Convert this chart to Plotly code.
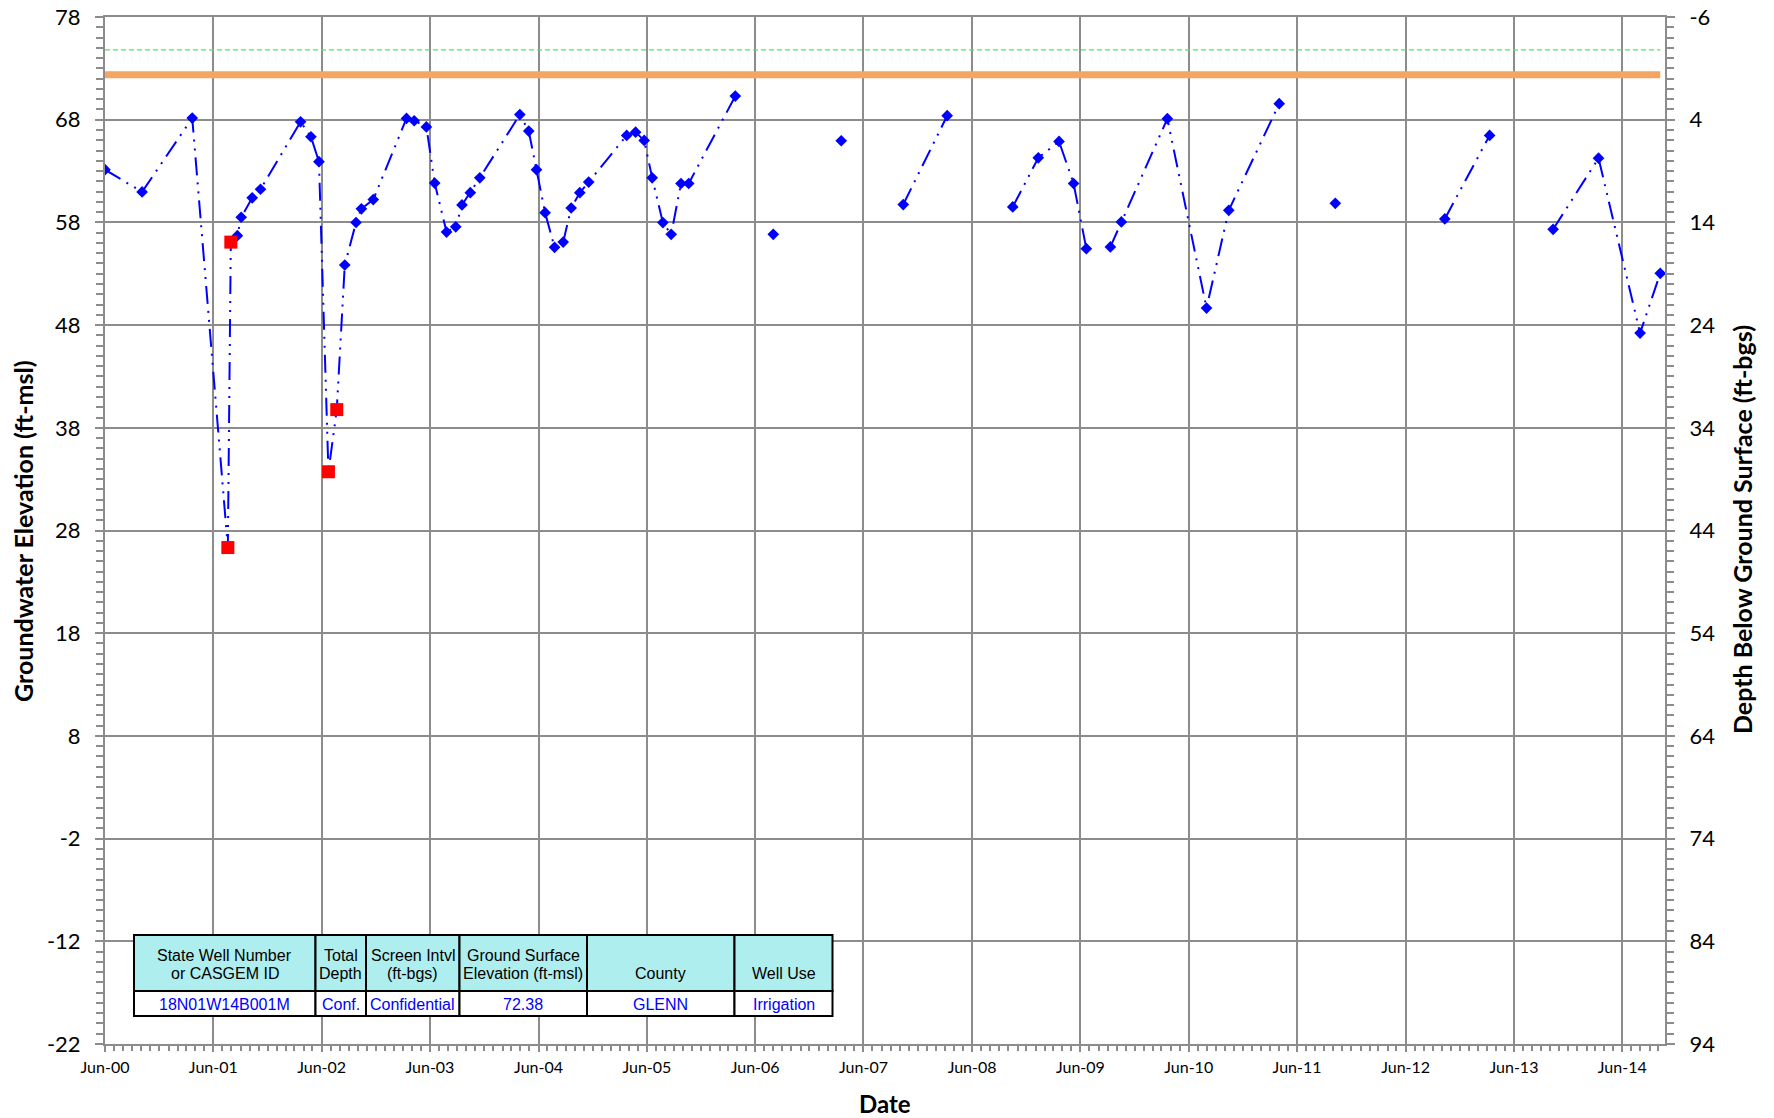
import plotly.graph_objects as go

# ---------------- data ----------------
# Groundwater elevation measurements (ft-msl); None marks a break in the record
dates = [
    "2000-06-01", "2000-10-04", "2001-03-22", "2001-07-20", "2001-07-30", "2001-08-21",
    "2001-09-03", "2001-10-10", "2001-11-07", "2002-03-22", "2002-04-26", "2002-05-23",
    "2002-06-24", "2002-07-22", "2002-08-18", "2002-09-25", "2002-10-13", "2002-11-22",
    "2003-03-14", "2003-04-09", "2003-05-20", "2003-06-17", "2003-07-27", "2003-08-27",
    "2003-09-17", "2003-10-15", "2003-11-16", "2004-03-30", "2004-04-29", "2004-05-25",
    "2004-06-23", "2004-07-25", "2004-08-23", "2004-09-19", "2004-10-18", "2004-11-17",
    "2005-03-25", "2005-04-24", "2005-05-23", "2005-06-19", "2005-07-25", "2005-08-22",
    "2005-09-24", "2005-10-20", "2006-03-26", None,
    "2006-08-01", None,
    "2007-03-18", None,
    "2007-10-13", "2008-03-09", None,
    "2008-10-16", "2009-01-10", "2009-03-21", "2009-05-09", "2009-06-21", None,
    "2009-09-10", "2009-10-17", "2010-03-21", "2010-07-31", "2010-10-14", "2011-04-02", None,
    "2011-10-08", None,
    "2012-10-11", "2013-03-11", None,
    "2013-10-11", "2014-03-13", "2014-07-31", "2014-10-07",
]
elev = [
    63.13, 60.97, 68.16, 26.34, 56.08, 56.71,
    58.50, 60.39, 61.23, 67.79, 66.34, 63.91,
    33.72, 39.77, 53.85, 57.99, 59.32, 60.22,
    68.12, 67.90, 67.30, 61.83, 57.06, 57.57,
    59.70, 60.89, 62.34, 68.50, 66.89, 63.13,
    58.95, 55.57, 56.08, 59.40, 60.89, 61.93,
    66.47, 66.79, 65.98, 62.34, 57.98, 56.84,
    61.79, 61.79, 70.30, None,
    56.84, None,
    65.95, None,
    59.74, 68.39, None,
    59.51, 64.29, 65.88, 61.79, 55.44, None,
    55.61, 58.05, 68.10, 49.66, 59.18, 69.56, None,
    59.86, None,
    58.34, 66.47, None,
    57.33, 64.25, 47.22, 53.04,
]
# Questionable measurements
q_dates = ["2001-07-20", "2001-07-30", "2002-06-24", "2002-07-22"]
q_elev = [26.34, 56.08, 33.72, 39.77]

ground_surface = 72.38
reference_point = 74.80
ref_dates = ["2000-06-01", "2014-10-07"]

# axis ticks
elev_ticks = [-22, -12, -2, 8, 18, 28, 38, 48, 58, 68, 78]
elev_ticktext = ["-22", "-12", "-2", "8", "18", "28", "38", "48", "58", "68", "78"]
depth_ticks = [-6, 4, 14, 24, 34, 44, 54, 64, 74, 84, 94]
depth_ticktext = ["-6", "4", "14", "24", "34", "44", "54", "64", "74", "84", "94"]

# Well info table
table_head1 = ["State Well Number", "Total", "Screen Intvl", "Ground Surface", "", ""]
table_head2 = ["or CASGEM ID", "Depth", "(ft-bgs)", "Elevation (ft-msl)", "County", "Well Use"]
table_vals = ["18N01W14B001M", "Conf.", "Confidential", "72.38", "GLENN", "Irrigation"]

# ---------------- layout geometry (page pixels) ----------------
W, H = 1774, 1118
OFF = 8  # page body margin
L, R, T, B = 105, 1665, 17, 1044
PW, PH = R - L, B - T


def px(x):
    return (x - L) / PW


def py(y):
    return (B - y) / PH


GRID = "#8C8C8C"
AXFONT = "Lato, 'Open Sans', sans-serif"

fig = go.Figure()

fig.add_trace(go.Scatter(
    x=ref_dates, y=[reference_point, reference_point], mode="lines",
    line=dict(color="#44F044", width=1.2, dash="5px,3px"),
    hoverinfo="skip", showlegend=False))
fig.add_trace(go.Scatter(
    x=ref_dates, y=[ground_surface, ground_surface], mode="lines",
    line=dict(color="#F5A462", width=7),
    hoverinfo="skip", showlegend=False))
fig.add_trace(go.Scatter(
    x=dates, y=elev, mode="lines+markers", connectgaps=False,
    line=dict(color="#0000FF", width=2, dash="18px,7px,2px,7px,2px,7px"),
    marker=dict(symbol="diamond", size=9, color="#0000FF"),
    showlegend=False))
fig.add_trace(go.Scatter(
    x=q_dates, y=q_elev, mode="markers",
    marker=dict(symbol="square", size=13, color="#FF0000"),
    showlegend=False))
# invisible trace to activate the right axis
fig.add_trace(go.Scatter(
    x=ref_dates, y=[72 - ground_surface, 72 - ground_surface], yaxis="y2",
    mode="lines", line=dict(width=0), opacity=0, hoverinfo="skip", showlegend=False))

fig.update_layout(
    width=W, height=H,
    margin=dict(l=L - OFF, r=W - (R - OFF), t=T - OFF, b=H - (B - OFF), autoexpand=False),
    paper_bgcolor="white", plot_bgcolor="white",
    font=dict(family=AXFONT, color="black"),
    xaxis=dict(
        type="date", range=["2000-06-01", "2014-10-23"],
        tick0="2000-06-01", dtick="M12", tickformat="%b-%y",
        tickfont=dict(size=16, family=AXFONT, color="black"),
        showgrid=True, gridcolor=GRID, gridwidth=2,
        showline=True, linecolor=GRID, linewidth=2, mirror=True,
        ticks="outside", ticklen=6, tickcolor=GRID, tickwidth=2,
        ticklabelstandoff=2, ticklabeloverflow="allow",
        minor=dict(dtick="M1", ticks="outside", ticklen=5, tickcolor=GRID, tickwidth=1.5, showgrid=False),
        zeroline=False,
    ),
    yaxis=dict(
        range=[-22, 78], tickmode="array", tickvals=elev_ticks, ticktext=elev_ticktext,
        tickfont=dict(size=22, family=AXFONT, color="black"),
        showgrid=True, gridcolor=GRID, gridwidth=2,
        showline=True, linecolor=GRID, linewidth=2,
        ticks="outside", ticklen=8, tickcolor=GRID, tickwidth=2,
        ticklabelstandoff=10, ticklabeloverflow="allow",
        minor=dict(dtick=1, tick0=-22, ticks="outside", ticklen=7, tickcolor=GRID, tickwidth=1.5, showgrid=False),
        zeroline=False,
    ),
    yaxis2=dict(
        overlaying="y", side="right", range=[94, -6],
        tickmode="array", tickvals=depth_ticks, ticktext=depth_ticktext,
        tickfont=dict(size=22, family=AXFONT, color="black"),
        showgrid=False,
        showline=True, linecolor=GRID, linewidth=2,
        ticks="outside", ticklen=8, tickcolor=GRID, tickwidth=2,
        ticklabelstandoff=10, ticklabeloverflow="allow",
        minor=dict(dtick=1, tick0=-6, ticks="outside", ticklen=7, tickcolor=GRID, tickwidth=1.5, showgrid=False),
        zeroline=False,
    ),
)

# axis titles
fig.add_annotation(text="<b>Groundwater Elevation (ft-msl)</b>", xref="paper", yref="paper",
                   x=px(23), y=py(531), textangle=-90, showarrow=False,
                   xanchor="center", yanchor="middle",
                   font=dict(size=25, family=AXFONT, color="black"))
fig.add_annotation(text="<b>Depth Below Ground Surface (ft-bgs)</b>", xref="paper", yref="paper",
                   x=px(1742), y=py(530), textangle=-90, showarrow=False,
                   xanchor="center", yanchor="middle",
                   font=dict(size=25, family=AXFONT, color="black"))
fig.add_annotation(text="<b>Date</b>", xref="paper", yref="paper",
                   x=px(885), y=py(1103), showarrow=False,
                   xanchor="center", yanchor="middle",
                   font=dict(size=24, family=AXFONT, color="black"))

# well info table
col_edges = [134, 315.5, 366, 459.5, 587, 734.5, 832.5]
row_top, row_mid, row_bot = 935, 991, 1016
TFONT = "Liberation Sans, Arial, sans-serif"
for i in range(len(table_vals)):
    x0, x1 = col_edges[i], col_edges[i + 1]
    fig.add_shape(type="rect", xref="paper", yref="paper",
                  x0=px(x0), x1=px(x1), y0=py(row_mid), y1=py(row_top),
                  fillcolor="#AFEEEE", line=dict(color="black", width=2), layer="above")
    fig.add_shape(type="rect", xref="paper", yref="paper",
                  x0=px(x0), x1=px(x1), y0=py(row_bot), y1=py(row_mid),
                  fillcolor="white", line=dict(color="black", width=2), layer="above")
    xc = px((x0 + x1) / 2)
    if table_head1[i]:
        fig.add_annotation(text=table_head1[i], xref="paper", yref="paper", x=xc, y=py(955.5),
                           xanchor="center", yanchor="middle",
                           showarrow=False, font=dict(size=16, family=TFONT, color="black"))
    fig.add_annotation(text=table_head2[i], xref="paper", yref="paper", x=xc, y=py(973.5),
                       xanchor="center", yanchor="middle",
                       showarrow=False, font=dict(size=16, family=TFONT, color="black"))
    fig.add_annotation(text=table_vals[i], xref="paper", yref="paper", x=xc, y=py(1004),
                       xanchor="center", yanchor="middle",
                       showarrow=False, font=dict(size=16, family=TFONT, color="#0000FF"))

fig.write_html("out.html")
